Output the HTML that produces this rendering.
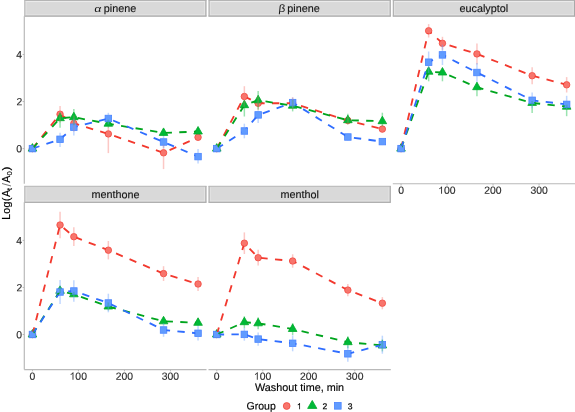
<!DOCTYPE html><html><head><meta charset="utf-8"><style>html,body{margin:0;padding:0;background:#fff;width:575px;height:412px;overflow:hidden}svg{display:block;will-change:transform}text{font-family:"Liberation Sans", sans-serif}</style></head><body>
<svg width="575" height="412" viewBox="0 0 575 412">
<rect width="575" height="412" fill="#fff"/>
<rect x="24.75" y="0.2" width="181.2" height="16" fill="#d9d9d9"/>
<line x1="25.2" y1="1.6" x2="205.5" y2="1.6" stroke="#efefef" stroke-width="0.9"/>
<line x1="25.2" y1="14.7" x2="205.5" y2="14.7" stroke="#e3e3e3" stroke-width="0.8"/>
<line x1="26.05" y1="1.2" x2="26.05" y2="15.2" stroke="#e5e5e5" stroke-width="0.8"/>
<line x1="204.65" y1="1.2" x2="204.65" y2="15.2" stroke="#e7e7e7" stroke-width="0.8"/>
<line x1="24.15" y1="0.2" x2="206.55" y2="0.2" stroke="#a7a7a7" stroke-width="1.2"/>
<line x1="24.15" y1="16.2" x2="206.55" y2="16.2" stroke="#a9a9a9" stroke-width="1.3"/>
<line x1="24.75" y1="0.2" x2="24.75" y2="16.2" stroke="#bdbdbd" stroke-width="1.2"/>
<line x1="205.95" y1="0.2" x2="205.95" y2="16.2" stroke="#a9a9a9" stroke-width="1.2"/>
<text transform="translate(94.092,11.950) rotate(0.05) skewX(-8) scale(1.12,0.88)" font-size="10.8" fill="#141414">α</text>
<g transform="translate(103.804,11.950) rotate(0.05)"><text x="0" y="0" font-size="10.8" fill="#141414" stroke="#141414" stroke-width="0.14">pinene</text></g>
<rect x="209.05" y="0.2" width="181.2" height="16" fill="#d9d9d9"/>
<line x1="209.5" y1="1.6" x2="389.8" y2="1.6" stroke="#efefef" stroke-width="0.9"/>
<line x1="209.5" y1="14.7" x2="389.8" y2="14.7" stroke="#e3e3e3" stroke-width="0.8"/>
<line x1="210.35" y1="1.2" x2="210.35" y2="15.2" stroke="#e5e5e5" stroke-width="0.8"/>
<line x1="388.95" y1="1.2" x2="388.95" y2="15.2" stroke="#e7e7e7" stroke-width="0.8"/>
<line x1="208.45" y1="0.2" x2="390.85" y2="0.2" stroke="#a7a7a7" stroke-width="1.2"/>
<line x1="208.45" y1="16.2" x2="390.85" y2="16.2" stroke="#a9a9a9" stroke-width="1.3"/>
<line x1="209.05" y1="0.2" x2="209.05" y2="16.2" stroke="#b0b0b0" stroke-width="1.2"/>
<line x1="390.25" y1="0.2" x2="390.25" y2="16.2" stroke="#a9a9a9" stroke-width="1.2"/>
<text transform="translate(278.291,11.950) rotate(0.05) skewX(-6) scale(1.08,1.0)" font-size="10.8" fill="#141414">β</text>
<g transform="translate(287.304,11.950) rotate(0.05)"><text x="0" y="0" font-size="10.8" fill="#141414" stroke="#141414" stroke-width="0.14">pinene</text></g>
<rect x="393.35" y="0.2" width="181.2" height="16" fill="#d9d9d9"/>
<line x1="393.8" y1="1.6" x2="574.1" y2="1.6" stroke="#efefef" stroke-width="0.9"/>
<line x1="393.8" y1="14.7" x2="574.1" y2="14.7" stroke="#e3e3e3" stroke-width="0.8"/>
<line x1="394.65" y1="1.2" x2="394.65" y2="15.2" stroke="#e5e5e5" stroke-width="0.8"/>
<line x1="573.25" y1="1.2" x2="573.25" y2="15.2" stroke="#e7e7e7" stroke-width="0.8"/>
<line x1="392.75" y1="0.2" x2="575.15" y2="0.2" stroke="#a7a7a7" stroke-width="1.2"/>
<line x1="392.75" y1="16.2" x2="575.15" y2="16.2" stroke="#a9a9a9" stroke-width="1.3"/>
<line x1="393.35" y1="0.2" x2="393.35" y2="16.2" stroke="#b0b0b0" stroke-width="1.2"/>
<line x1="574.55" y1="0.2" x2="574.55" y2="16.2" stroke="#a9a9a9" stroke-width="1.2"/>
<g transform="translate(459.541,11.950) rotate(0.05)"><text x="0" y="0" font-size="10.8" fill="#141414" stroke="#141414" stroke-width="0.14">eucalyptol</text></g>
<rect x="24.75" y="186.35" width="181.2" height="16" fill="#d9d9d9"/>
<line x1="25.2" y1="200.85" x2="205.5" y2="200.85" stroke="#e3e3e3" stroke-width="0.8"/>
<line x1="26.05" y1="187.35" x2="26.05" y2="201.35" stroke="#e5e5e5" stroke-width="0.8"/>
<line x1="204.65" y1="187.35" x2="204.65" y2="201.35" stroke="#e7e7e7" stroke-width="0.8"/>
<line x1="24.15" y1="186.35" x2="206.55" y2="186.35" stroke="#bfbfbf" stroke-width="1.2"/>
<line x1="24.15" y1="202.35" x2="206.55" y2="202.35" stroke="#b0b0b0" stroke-width="1.3"/>
<line x1="24.75" y1="186.35" x2="24.75" y2="202.35" stroke="#bdbdbd" stroke-width="1.2"/>
<line x1="205.95" y1="186.35" x2="205.95" y2="202.35" stroke="#a9a9a9" stroke-width="1.2"/>
<g transform="translate(91.383,198.100) rotate(0.05)"><text x="0" y="0" font-size="10.8" fill="#141414" stroke="#141414" stroke-width="0.14">menthone</text></g>
<rect x="209.05" y="186.35" width="181.2" height="16" fill="#d9d9d9"/>
<line x1="209.5" y1="200.85" x2="389.8" y2="200.85" stroke="#e3e3e3" stroke-width="0.8"/>
<line x1="210.35" y1="187.35" x2="210.35" y2="201.35" stroke="#e5e5e5" stroke-width="0.8"/>
<line x1="388.95" y1="187.35" x2="388.95" y2="201.35" stroke="#e7e7e7" stroke-width="0.8"/>
<line x1="208.45" y1="186.35" x2="390.85" y2="186.35" stroke="#bfbfbf" stroke-width="1.2"/>
<line x1="208.45" y1="202.35" x2="390.85" y2="202.35" stroke="#b0b0b0" stroke-width="1.3"/>
<line x1="209.05" y1="186.35" x2="209.05" y2="202.35" stroke="#b0b0b0" stroke-width="1.2"/>
<line x1="390.25" y1="186.35" x2="390.25" y2="202.35" stroke="#a9a9a9" stroke-width="1.2"/>
<g transform="translate(280.583,198.100) rotate(0.05)"><text x="0" y="0" font-size="10.8" fill="#141414" stroke="#141414" stroke-width="0.14">menthol</text></g>
<line x1="24.3" y1="16.2" x2="24.3" y2="183.75" stroke="#b9b9b9" stroke-width="1.2"/>
<line x1="22.6" y1="148.6" x2="24.3" y2="148.6" stroke="#b9b9b9" stroke-width="1"/>
<g transform="translate(16.372,152.350) rotate(0.05)"><text x="0" y="0" font-size="10.4" fill="#2b2b2b" stroke="#2b2b2b" stroke-width="0.15">0</text></g>
<line x1="22.6" y1="101.55" x2="24.3" y2="101.55" stroke="#b9b9b9" stroke-width="1"/>
<g transform="translate(16.489,105.300) rotate(0.05)"><text x="0" y="0" font-size="10.4" fill="#2b2b2b" stroke="#2b2b2b" stroke-width="0.15">2</text></g>
<line x1="22.6" y1="54.5" x2="24.3" y2="54.5" stroke="#b9b9b9" stroke-width="1"/>
<g transform="translate(16.271,58.250) rotate(0.05)"><text x="0" y="0" font-size="10.4" fill="#2b2b2b" stroke="#2b2b2b" stroke-width="0.15">4</text></g>
<line x1="24.3" y1="202.35" x2="24.3" y2="369.55" stroke="#b9b9b9" stroke-width="1.2"/>
<line x1="22.6" y1="334.5" x2="24.3" y2="334.5" stroke="#b9b9b9" stroke-width="1"/>
<g transform="translate(16.372,338.250) rotate(0.05)"><text x="0" y="0" font-size="10.4" fill="#2b2b2b" stroke="#2b2b2b" stroke-width="0.15">0</text></g>
<line x1="22.6" y1="287.45" x2="24.3" y2="287.45" stroke="#b9b9b9" stroke-width="1"/>
<g transform="translate(16.489,291.200) rotate(0.05)"><text x="0" y="0" font-size="10.4" fill="#2b2b2b" stroke="#2b2b2b" stroke-width="0.15">2</text></g>
<line x1="22.6" y1="240.4" x2="24.3" y2="240.4" stroke="#b9b9b9" stroke-width="1"/>
<g transform="translate(16.271,244.150) rotate(0.05)"><text x="0" y="0" font-size="10.4" fill="#2b2b2b" stroke="#2b2b2b" stroke-width="0.15">4</text></g>
<line x1="392.8" y1="183.75" x2="575.1" y2="183.75" stroke="#b9b9b9" stroke-width="1.2"/>
<line x1="401.05" y1="183.75" x2="401.05" y2="185.55" stroke="#b9b9b9" stroke-width="1"/>
<g transform="translate(398.158,193.850) rotate(0.05)"><text x="0" y="0" font-size="10.4" fill="#2b2b2b" stroke="#2b2b2b" stroke-width="0.15">0</text></g>
<line x1="447.05" y1="183.75" x2="447.05" y2="185.55" stroke="#b9b9b9" stroke-width="1"/>
<path transform="translate(438.18,193.85) scale(0.01040,-0.01040)" d="M372,0 L284,0 L284,560 C263,540 235,519 200,499 C165,478 134,463 106,452 L106,537 C155,560 198,588 235,621 C272,654 298,686 313,716 L372,716 Z" fill="#2b2b2b"/><g transform="translate(443.965,193.850) rotate(0.05)"><text x="0" y="0" font-size="10.4" fill="#2b2b2b" stroke="#2b2b2b" stroke-width="0.15">00</text></g>
<line x1="493.05" y1="183.75" x2="493.05" y2="185.55" stroke="#b9b9b9" stroke-width="1"/>
<g transform="translate(484.316,193.850) rotate(0.05)"><text x="0" y="0" font-size="10.4" fill="#2b2b2b" stroke="#2b2b2b" stroke-width="0.15">200</text></g>
<line x1="539.05" y1="183.75" x2="539.05" y2="185.55" stroke="#b9b9b9" stroke-width="1"/>
<g transform="translate(530.379,193.850) rotate(0.05)"><text x="0" y="0" font-size="10.4" fill="#2b2b2b" stroke="#2b2b2b" stroke-width="0.15">300</text></g>
<line x1="24.2" y1="369.55" x2="206.5" y2="369.55" stroke="#b9b9b9" stroke-width="1.2"/>
<line x1="32.45" y1="369.55" x2="32.45" y2="371.35" stroke="#b9b9b9" stroke-width="1"/>
<g transform="translate(29.558,379.650) rotate(0.05)"><text x="0" y="0" font-size="10.4" fill="#2b2b2b" stroke="#2b2b2b" stroke-width="0.15">0</text></g>
<line x1="78.45" y1="369.55" x2="78.45" y2="371.35" stroke="#b9b9b9" stroke-width="1"/>
<path transform="translate(69.58,379.65) scale(0.01040,-0.01040)" d="M372,0 L284,0 L284,560 C263,540 235,519 200,499 C165,478 134,463 106,452 L106,537 C155,560 198,588 235,621 C272,654 298,686 313,716 L372,716 Z" fill="#2b2b2b"/><g transform="translate(75.365,379.650) rotate(0.05)"><text x="0" y="0" font-size="10.4" fill="#2b2b2b" stroke="#2b2b2b" stroke-width="0.15">00</text></g>
<line x1="124.45" y1="369.55" x2="124.45" y2="371.35" stroke="#b9b9b9" stroke-width="1"/>
<g transform="translate(115.716,379.650) rotate(0.05)"><text x="0" y="0" font-size="10.4" fill="#2b2b2b" stroke="#2b2b2b" stroke-width="0.15">200</text></g>
<line x1="170.45" y1="369.55" x2="170.45" y2="371.35" stroke="#b9b9b9" stroke-width="1"/>
<g transform="translate(161.779,379.650) rotate(0.05)"><text x="0" y="0" font-size="10.4" fill="#2b2b2b" stroke="#2b2b2b" stroke-width="0.15">300</text></g>
<line x1="208.5" y1="369.55" x2="390.8" y2="369.55" stroke="#b9b9b9" stroke-width="1.2"/>
<line x1="216.75" y1="369.55" x2="216.75" y2="371.35" stroke="#b9b9b9" stroke-width="1"/>
<g transform="translate(213.858,379.650) rotate(0.05)"><text x="0" y="0" font-size="10.4" fill="#2b2b2b" stroke="#2b2b2b" stroke-width="0.15">0</text></g>
<line x1="262.75" y1="369.55" x2="262.75" y2="371.35" stroke="#b9b9b9" stroke-width="1"/>
<path transform="translate(253.88,379.65) scale(0.01040,-0.01040)" d="M372,0 L284,0 L284,560 C263,540 235,519 200,499 C165,478 134,463 106,452 L106,537 C155,560 198,588 235,621 C272,654 298,686 313,716 L372,716 Z" fill="#2b2b2b"/><g transform="translate(259.665,379.650) rotate(0.05)"><text x="0" y="0" font-size="10.4" fill="#2b2b2b" stroke="#2b2b2b" stroke-width="0.15">00</text></g>
<line x1="308.75" y1="369.55" x2="308.75" y2="371.35" stroke="#b9b9b9" stroke-width="1"/>
<g transform="translate(300.016,379.650) rotate(0.05)"><text x="0" y="0" font-size="10.4" fill="#2b2b2b" stroke="#2b2b2b" stroke-width="0.15">200</text></g>
<line x1="354.75" y1="369.55" x2="354.75" y2="371.35" stroke="#b9b9b9" stroke-width="1"/>
<g transform="translate(346.079,379.650) rotate(0.05)"><text x="0" y="0" font-size="10.4" fill="#2b2b2b" stroke="#2b2b2b" stroke-width="0.15">300</text></g>
<defs><mask id="m0r" maskUnits="userSpaceOnUse" x="0" y="0" width="575" height="412"><rect width="575" height="412" fill="#fff"/><circle cx="32.45" cy="148.6" r="2.75" fill="#000"/><circle cx="60.05" cy="114.2" r="2.75" fill="#000"/><circle cx="73.85" cy="123.4" r="2.75" fill="#000"/><circle cx="108.35" cy="133.9" r="2.75" fill="#000"/><circle cx="163.55" cy="152.8" r="2.75" fill="#000"/><circle cx="198.05" cy="137.3" r="2.75" fill="#000"/></mask><mask id="m0g" maskUnits="userSpaceOnUse" x="0" y="0" width="575" height="412"><rect width="575" height="412" fill="#fff"/><polygon points="32.45,144.95 35.61,150.43 29.29,150.43" fill="#000"/><polygon points="60.05,114.55 63.21,120.03 56.89,120.03" fill="#000"/><polygon points="73.85,113.55 77.01,119.03 70.69,119.03" fill="#000"/><polygon points="108.35,120.05 111.51,125.53 105.19,125.53" fill="#000"/><polygon points="163.55,129.25 166.71,134.73 160.39,134.73" fill="#000"/><polygon points="198.05,127.85 201.21,133.33 194.89,133.33" fill="#000"/></mask><mask id="m0b" maskUnits="userSpaceOnUse" x="0" y="0" width="575" height="412"><rect width="575" height="412" fill="#fff"/><rect x="29.7" y="145.85" width="5.5" height="5.5" fill="#000"/><rect x="57.3" y="136.55" width="5.5" height="5.5" fill="#000"/><rect x="71.1" y="124.45" width="5.5" height="5.5" fill="#000"/><rect x="105.6" y="115.75" width="5.5" height="5.5" fill="#000"/><rect x="160.8" y="139.25" width="5.5" height="5.5" fill="#000"/><rect x="195.3" y="153.85" width="5.5" height="5.5" fill="#000"/></mask><mask id="m1r" maskUnits="userSpaceOnUse" x="0" y="0" width="575" height="412"><rect width="575" height="412" fill="#fff"/><circle cx="216.75" cy="148.6" r="2.75" fill="#000"/><circle cx="244.35" cy="96.5" r="2.75" fill="#000"/><circle cx="258.15" cy="103.3" r="2.75" fill="#000"/><circle cx="292.65" cy="103.2" r="2.75" fill="#000"/><circle cx="347.85" cy="120.5" r="2.75" fill="#000"/><circle cx="382.35" cy="129.1" r="2.75" fill="#000"/></mask><mask id="m1g" maskUnits="userSpaceOnUse" x="0" y="0" width="575" height="412"><rect width="575" height="412" fill="#fff"/><polygon points="216.75,144.95 219.91,150.43 213.59,150.43" fill="#000"/><polygon points="244.35,101.55 247.51,107.03 241.19,107.03" fill="#000"/><polygon points="258.15,96.65 261.31,102.13 254.99,102.13" fill="#000"/><polygon points="292.65,102.05 295.81,107.53 289.49,107.53" fill="#000"/><polygon points="347.85,116.55 351.01,122.03 344.69,122.03" fill="#000"/><polygon points="382.35,117.55 385.51,123.03 379.19,123.03" fill="#000"/></mask><mask id="m1b" maskUnits="userSpaceOnUse" x="0" y="0" width="575" height="412"><rect width="575" height="412" fill="#fff"/><rect x="214" y="145.85" width="5.5" height="5.5" fill="#000"/><rect x="241.6" y="128.25" width="5.5" height="5.5" fill="#000"/><rect x="255.4" y="112.15" width="5.5" height="5.5" fill="#000"/><rect x="289.9" y="99.85" width="5.5" height="5.5" fill="#000"/><rect x="345.1" y="134.25" width="5.5" height="5.5" fill="#000"/><rect x="379.6" y="138.85" width="5.5" height="5.5" fill="#000"/></mask><mask id="m2r" maskUnits="userSpaceOnUse" x="0" y="0" width="575" height="412"><rect width="575" height="412" fill="#fff"/><circle cx="401.05" cy="148.6" r="2.75" fill="#000"/><circle cx="428.65" cy="30.8" r="2.75" fill="#000"/><circle cx="442.45" cy="43.3" r="2.75" fill="#000"/><circle cx="476.95" cy="53.9" r="2.75" fill="#000"/><circle cx="532.15" cy="75.7" r="2.75" fill="#000"/><circle cx="566.65" cy="84.8" r="2.75" fill="#000"/></mask><mask id="m2g" maskUnits="userSpaceOnUse" x="0" y="0" width="575" height="412"><rect width="575" height="412" fill="#fff"/><polygon points="401.05,144.95 404.21,150.43 397.89,150.43" fill="#000"/><polygon points="428.65,68.05 431.81,73.53 425.49,73.53" fill="#000"/><polygon points="442.45,68.85 445.61,74.33 439.29,74.33" fill="#000"/><polygon points="476.95,83.55 480.11,89.03 473.79,89.03" fill="#000"/><polygon points="532.15,99.25 535.31,104.73 528.99,104.73" fill="#000"/><polygon points="566.65,103.05 569.81,108.53 563.49,108.53" fill="#000"/></mask><mask id="m2b" maskUnits="userSpaceOnUse" x="0" y="0" width="575" height="412"><rect width="575" height="412" fill="#fff"/><rect x="398.3" y="145.85" width="5.5" height="5.5" fill="#000"/><rect x="425.9" y="59.45" width="5.5" height="5.5" fill="#000"/><rect x="439.7" y="52.15" width="5.5" height="5.5" fill="#000"/><rect x="474.2" y="69.75" width="5.5" height="5.5" fill="#000"/><rect x="529.4" y="97.55" width="5.5" height="5.5" fill="#000"/><rect x="563.9" y="101.65" width="5.5" height="5.5" fill="#000"/></mask><mask id="m3r" maskUnits="userSpaceOnUse" x="0" y="0" width="575" height="412"><rect width="575" height="412" fill="#fff"/><circle cx="32.45" cy="334.5" r="2.75" fill="#000"/><circle cx="60.05" cy="225" r="2.75" fill="#000"/><circle cx="73.85" cy="236.7" r="2.75" fill="#000"/><circle cx="108.35" cy="250.2" r="2.75" fill="#000"/><circle cx="163.55" cy="273.6" r="2.75" fill="#000"/><circle cx="198.05" cy="284" r="2.75" fill="#000"/></mask><mask id="m3g" maskUnits="userSpaceOnUse" x="0" y="0" width="575" height="412"><rect width="575" height="412" fill="#fff"/><polygon points="32.45,330.85 35.61,336.33 29.29,336.33" fill="#000"/><polygon points="60.05,287.15 63.21,292.63 56.89,292.63" fill="#000"/><polygon points="73.85,290.65 77.01,296.13 70.69,296.13" fill="#000"/><polygon points="108.35,302.85 111.51,308.33 105.19,308.33" fill="#000"/><polygon points="163.55,317.65 166.71,323.13 160.39,323.13" fill="#000"/><polygon points="198.05,319.15 201.21,324.63 194.89,324.63" fill="#000"/></mask><mask id="m3b" maskUnits="userSpaceOnUse" x="0" y="0" width="575" height="412"><rect width="575" height="412" fill="#fff"/><rect x="29.7" y="331.75" width="5.5" height="5.5" fill="#000"/><rect x="57.3" y="289.25" width="5.5" height="5.5" fill="#000"/><rect x="71.1" y="288.25" width="5.5" height="5.5" fill="#000"/><rect x="105.6" y="300.25" width="5.5" height="5.5" fill="#000"/><rect x="160.8" y="327.25" width="5.5" height="5.5" fill="#000"/><rect x="195.3" y="330.55" width="5.5" height="5.5" fill="#000"/></mask><mask id="m4r" maskUnits="userSpaceOnUse" x="0" y="0" width="575" height="412"><rect width="575" height="412" fill="#fff"/><circle cx="216.75" cy="334.5" r="2.75" fill="#000"/><circle cx="244.35" cy="243.2" r="2.75" fill="#000"/><circle cx="258.15" cy="257.7" r="2.75" fill="#000"/><circle cx="292.65" cy="261" r="2.75" fill="#000"/><circle cx="347.85" cy="290.1" r="2.75" fill="#000"/><circle cx="382.35" cy="303.2" r="2.75" fill="#000"/></mask><mask id="m4g" maskUnits="userSpaceOnUse" x="0" y="0" width="575" height="412"><rect width="575" height="412" fill="#fff"/><polygon points="216.75,330.85 219.91,336.33 213.59,336.33" fill="#000"/><polygon points="244.35,318.55 247.51,324.03 241.19,324.03" fill="#000"/><polygon points="258.15,319.65 261.31,325.13 254.99,325.13" fill="#000"/><polygon points="292.65,325.35 295.81,330.83 289.49,330.83" fill="#000"/><polygon points="347.85,338.55 351.01,344.03 344.69,344.03" fill="#000"/><polygon points="382.35,341.75 385.51,347.23 379.19,347.23" fill="#000"/></mask><mask id="m4b" maskUnits="userSpaceOnUse" x="0" y="0" width="575" height="412"><rect width="575" height="412" fill="#fff"/><rect x="214" y="331.75" width="5.5" height="5.5" fill="#000"/><rect x="241.6" y="331.65" width="5.5" height="5.5" fill="#000"/><rect x="255.4" y="336.35" width="5.5" height="5.5" fill="#000"/><rect x="289.9" y="340.55" width="5.5" height="5.5" fill="#000"/><rect x="345.1" y="351.05" width="5.5" height="5.5" fill="#000"/><rect x="379.6" y="341.95" width="5.5" height="5.5" fill="#000"/></mask></defs>
<circle cx="32.45" cy="148.6" r="3.25" fill="#F8766D" stroke="#F1463D" stroke-width="0.8"/>
<circle cx="60.05" cy="114.2" r="3.25" fill="#F8766D" stroke="#F1463D" stroke-width="0.8"/>
<circle cx="73.85" cy="123.4" r="3.25" fill="#F8766D" stroke="#F1463D" stroke-width="0.8"/>
<circle cx="108.35" cy="133.9" r="3.25" fill="#F8766D" stroke="#F1463D" stroke-width="0.8"/>
<circle cx="163.55" cy="152.8" r="3.25" fill="#F8766D" stroke="#F1463D" stroke-width="0.8"/>
<circle cx="198.05" cy="137.3" r="3.25" fill="#F8766D" stroke="#F1463D" stroke-width="0.8"/>
<polygon points="32.45,143.61 36.77,151.1 28.13,151.1" fill="#00BA38" stroke="#00A82A" stroke-width="0.8"/>
<polygon points="60.05,113.21 64.37,120.7 55.73,120.7" fill="#00BA38" stroke="#00A82A" stroke-width="0.8"/>
<polygon points="73.85,112.21 78.17,119.7 69.53,119.7" fill="#00BA38" stroke="#00A82A" stroke-width="0.8"/>
<polygon points="108.35,118.71 112.67,126.2 104.03,126.2" fill="#00BA38" stroke="#00A82A" stroke-width="0.8"/>
<polygon points="163.55,127.91 167.87,135.4 159.23,135.4" fill="#00BA38" stroke="#00A82A" stroke-width="0.8"/>
<polygon points="198.05,126.51 202.37,134 193.73,134" fill="#00BA38" stroke="#00A82A" stroke-width="0.8"/>
<rect x="29.2" y="145.35" width="6.5" height="6.5" fill="#619CFF" stroke="#4A84FF" stroke-width="0.8"/>
<rect x="56.8" y="136.05" width="6.5" height="6.5" fill="#619CFF" stroke="#4A84FF" stroke-width="0.8"/>
<rect x="70.6" y="123.95" width="6.5" height="6.5" fill="#619CFF" stroke="#4A84FF" stroke-width="0.8"/>
<rect x="105.1" y="115.25" width="6.5" height="6.5" fill="#619CFF" stroke="#4A84FF" stroke-width="0.8"/>
<rect x="160.3" y="138.75" width="6.5" height="6.5" fill="#619CFF" stroke="#4A84FF" stroke-width="0.8"/>
<rect x="194.8" y="153.35" width="6.5" height="6.5" fill="#619CFF" stroke="#4A84FF" stroke-width="0.8"/>
<line x1="60.05" y1="105.9" x2="60.05" y2="122.5" stroke="#F8766D" stroke-opacity="0.4" stroke-width="1.5"/>
<line x1="73.85" y1="115.4" x2="73.85" y2="131.4" stroke="#F8766D" stroke-opacity="0.4" stroke-width="1.5"/>
<line x1="108.35" y1="127.4" x2="108.35" y2="153.1" stroke="#F8766D" stroke-opacity="0.4" stroke-width="1.5"/>
<line x1="163.55" y1="144.8" x2="163.55" y2="169.1" stroke="#F8766D" stroke-opacity="0.4" stroke-width="1.5"/>
<line x1="198.05" y1="134.3" x2="198.05" y2="140.3" stroke="#F8766D" stroke-opacity="0.4" stroke-width="1.5"/>
<line x1="60.05" y1="112.2" x2="60.05" y2="127.7" stroke="#00BA38" stroke-opacity="0.4" stroke-width="1.5"/>
<line x1="73.85" y1="109.1" x2="73.85" y2="125.3" stroke="#00BA38" stroke-opacity="0.4" stroke-width="1.5"/>
<line x1="108.35" y1="119.7" x2="108.35" y2="127.7" stroke="#00BA38" stroke-opacity="0.4" stroke-width="1.5"/>
<line x1="163.55" y1="129.9" x2="163.55" y2="135.9" stroke="#00BA38" stroke-opacity="0.4" stroke-width="1.5"/>
<line x1="198.05" y1="128.5" x2="198.05" y2="134.5" stroke="#00BA38" stroke-opacity="0.4" stroke-width="1.5"/>
<line x1="60.05" y1="132.7" x2="60.05" y2="147.1" stroke="#619CFF" stroke-opacity="0.4" stroke-width="1.5"/>
<line x1="73.85" y1="118.8" x2="73.85" y2="135.6" stroke="#619CFF" stroke-opacity="0.4" stroke-width="1.5"/>
<line x1="108.35" y1="112.8" x2="108.35" y2="124.2" stroke="#619CFF" stroke-opacity="0.4" stroke-width="1.5"/>
<line x1="163.55" y1="136" x2="163.55" y2="148" stroke="#619CFF" stroke-opacity="0.4" stroke-width="1.5"/>
<line x1="198.05" y1="149.1" x2="198.05" y2="163.6" stroke="#619CFF" stroke-opacity="0.4" stroke-width="1.5"/>
<polyline points="32.45,148.6 60.05,114.2 73.85,123.4 108.35,133.9 163.55,152.8 198.05,137.3" fill="none" stroke="#F2392E" stroke-width="1.83" stroke-dasharray="7.35 7.35" mask="url(#m0r)"/>
<polyline points="32.45,148.6 60.05,118.2 73.85,117.2 108.35,123.7 163.55,132.9 198.05,131.5" fill="none" stroke="#00A51E" stroke-width="1.83" stroke-dasharray="7.35 7.35" mask="url(#m0g)"/>
<polyline points="32.45,148.6 60.05,139.3 73.85,127.2 108.35,118.5 163.55,142 198.05,156.6" fill="none" stroke="#2F6DFF" stroke-width="1.83" stroke-dasharray="7.35 7.35" mask="url(#m0b)"/>
<circle cx="216.75" cy="148.6" r="3.25" fill="#F8766D" stroke="#F1463D" stroke-width="0.8"/>
<circle cx="244.35" cy="96.5" r="3.25" fill="#F8766D" stroke="#F1463D" stroke-width="0.8"/>
<circle cx="258.15" cy="103.3" r="3.25" fill="#F8766D" stroke="#F1463D" stroke-width="0.8"/>
<circle cx="292.65" cy="103.2" r="3.25" fill="#F8766D" stroke="#F1463D" stroke-width="0.8"/>
<circle cx="347.85" cy="120.5" r="3.25" fill="#F8766D" stroke="#F1463D" stroke-width="0.8"/>
<circle cx="382.35" cy="129.1" r="3.25" fill="#F8766D" stroke="#F1463D" stroke-width="0.8"/>
<polygon points="216.75,143.61 221.07,151.1 212.43,151.1" fill="#00BA38" stroke="#00A82A" stroke-width="0.8"/>
<polygon points="244.35,100.21 248.67,107.7 240.03,107.7" fill="#00BA38" stroke="#00A82A" stroke-width="0.8"/>
<polygon points="258.15,95.31 262.47,102.8 253.83,102.8" fill="#00BA38" stroke="#00A82A" stroke-width="0.8"/>
<polygon points="292.65,100.71 296.97,108.2 288.33,108.2" fill="#00BA38" stroke="#00A82A" stroke-width="0.8"/>
<polygon points="347.85,115.21 352.17,122.7 343.53,122.7" fill="#00BA38" stroke="#00A82A" stroke-width="0.8"/>
<polygon points="382.35,116.21 386.67,123.7 378.03,123.7" fill="#00BA38" stroke="#00A82A" stroke-width="0.8"/>
<rect x="213.5" y="145.35" width="6.5" height="6.5" fill="#619CFF" stroke="#4A84FF" stroke-width="0.8"/>
<rect x="241.1" y="127.75" width="6.5" height="6.5" fill="#619CFF" stroke="#4A84FF" stroke-width="0.8"/>
<rect x="254.9" y="111.65" width="6.5" height="6.5" fill="#619CFF" stroke="#4A84FF" stroke-width="0.8"/>
<rect x="289.4" y="99.35" width="6.5" height="6.5" fill="#619CFF" stroke="#4A84FF" stroke-width="0.8"/>
<rect x="344.6" y="133.75" width="6.5" height="6.5" fill="#619CFF" stroke="#4A84FF" stroke-width="0.8"/>
<rect x="379.1" y="138.35" width="6.5" height="6.5" fill="#619CFF" stroke="#4A84FF" stroke-width="0.8"/>
<line x1="244.35" y1="86.2" x2="244.35" y2="106.8" stroke="#F8766D" stroke-opacity="0.4" stroke-width="1.5"/>
<line x1="258.15" y1="96.3" x2="258.15" y2="110.3" stroke="#F8766D" stroke-opacity="0.4" stroke-width="1.5"/>
<line x1="292.65" y1="97.2" x2="292.65" y2="109.2" stroke="#F8766D" stroke-opacity="0.4" stroke-width="1.5"/>
<line x1="347.85" y1="116.5" x2="347.85" y2="124.5" stroke="#F8766D" stroke-opacity="0.4" stroke-width="1.5"/>
<line x1="382.35" y1="125.6" x2="382.35" y2="132.6" stroke="#F8766D" stroke-opacity="0.4" stroke-width="1.5"/>
<line x1="244.35" y1="100.2" x2="244.35" y2="116.5" stroke="#00BA38" stroke-opacity="0.4" stroke-width="1.5"/>
<line x1="258.15" y1="91" x2="258.15" y2="109.6" stroke="#00BA38" stroke-opacity="0.4" stroke-width="1.5"/>
<line x1="292.65" y1="100" x2="292.65" y2="111.4" stroke="#00BA38" stroke-opacity="0.4" stroke-width="1.5"/>
<line x1="347.85" y1="113.7" x2="347.85" y2="124.2" stroke="#00BA38" stroke-opacity="0.4" stroke-width="1.5"/>
<line x1="382.35" y1="112.7" x2="382.35" y2="126.2" stroke="#00BA38" stroke-opacity="0.4" stroke-width="1.5"/>
<line x1="244.35" y1="123.7" x2="244.35" y2="138.3" stroke="#619CFF" stroke-opacity="0.4" stroke-width="1.5"/>
<line x1="258.15" y1="110.4" x2="258.15" y2="122.9" stroke="#619CFF" stroke-opacity="0.4" stroke-width="1.5"/>
<line x1="292.65" y1="97.6" x2="292.65" y2="107.6" stroke="#619CFF" stroke-opacity="0.4" stroke-width="1.5"/>
<line x1="347.85" y1="133.5" x2="347.85" y2="140.5" stroke="#619CFF" stroke-opacity="0.4" stroke-width="1.5"/>
<line x1="382.35" y1="138.1" x2="382.35" y2="145.1" stroke="#619CFF" stroke-opacity="0.4" stroke-width="1.5"/>
<polyline points="216.75,148.6 244.35,96.5 258.15,103.3 292.65,103.2 347.85,120.5 382.35,129.1" fill="none" stroke="#F2392E" stroke-width="1.83" stroke-dasharray="7.35 7.35" mask="url(#m1r)"/>
<polyline points="216.75,148.6 244.35,105.2 258.15,100.3 292.65,105.7 347.85,120.2 382.35,121.2" fill="none" stroke="#00A51E" stroke-width="1.83" stroke-dasharray="7.35 7.35" mask="url(#m1g)"/>
<polyline points="216.75,148.6 244.35,131 258.15,114.9 292.65,102.6 347.85,137 382.35,141.6" fill="none" stroke="#2F6DFF" stroke-width="1.83" stroke-dasharray="7.35 7.35" mask="url(#m1b)"/>
<circle cx="401.05" cy="148.6" r="3.25" fill="#F8766D" stroke="#F1463D" stroke-width="0.8"/>
<circle cx="428.65" cy="30.8" r="3.25" fill="#F8766D" stroke="#F1463D" stroke-width="0.8"/>
<circle cx="442.45" cy="43.3" r="3.25" fill="#F8766D" stroke="#F1463D" stroke-width="0.8"/>
<circle cx="476.95" cy="53.9" r="3.25" fill="#F8766D" stroke="#F1463D" stroke-width="0.8"/>
<circle cx="532.15" cy="75.7" r="3.25" fill="#F8766D" stroke="#F1463D" stroke-width="0.8"/>
<circle cx="566.65" cy="84.8" r="3.25" fill="#F8766D" stroke="#F1463D" stroke-width="0.8"/>
<polygon points="401.05,143.61 405.37,151.1 396.73,151.1" fill="#00BA38" stroke="#00A82A" stroke-width="0.8"/>
<polygon points="428.65,66.71 432.97,74.2 424.33,74.2" fill="#00BA38" stroke="#00A82A" stroke-width="0.8"/>
<polygon points="442.45,67.51 446.77,75 438.13,75" fill="#00BA38" stroke="#00A82A" stroke-width="0.8"/>
<polygon points="476.95,82.21 481.27,89.7 472.63,89.7" fill="#00BA38" stroke="#00A82A" stroke-width="0.8"/>
<polygon points="532.15,97.91 536.47,105.4 527.83,105.4" fill="#00BA38" stroke="#00A82A" stroke-width="0.8"/>
<polygon points="566.65,101.71 570.97,109.2 562.33,109.2" fill="#00BA38" stroke="#00A82A" stroke-width="0.8"/>
<rect x="397.8" y="145.35" width="6.5" height="6.5" fill="#619CFF" stroke="#4A84FF" stroke-width="0.8"/>
<rect x="425.4" y="58.95" width="6.5" height="6.5" fill="#619CFF" stroke="#4A84FF" stroke-width="0.8"/>
<rect x="439.2" y="51.65" width="6.5" height="6.5" fill="#619CFF" stroke="#4A84FF" stroke-width="0.8"/>
<rect x="473.7" y="69.25" width="6.5" height="6.5" fill="#619CFF" stroke="#4A84FF" stroke-width="0.8"/>
<rect x="528.9" y="97.05" width="6.5" height="6.5" fill="#619CFF" stroke="#4A84FF" stroke-width="0.8"/>
<rect x="563.4" y="101.15" width="6.5" height="6.5" fill="#619CFF" stroke="#4A84FF" stroke-width="0.8"/>
<line x1="428.65" y1="24.1" x2="428.65" y2="37.5" stroke="#F8766D" stroke-opacity="0.4" stroke-width="1.5"/>
<line x1="442.45" y1="36.8" x2="442.45" y2="49.8" stroke="#F8766D" stroke-opacity="0.4" stroke-width="1.5"/>
<line x1="476.95" y1="43.4" x2="476.95" y2="64.4" stroke="#F8766D" stroke-opacity="0.4" stroke-width="1.5"/>
<line x1="532.15" y1="67.2" x2="532.15" y2="84.2" stroke="#F8766D" stroke-opacity="0.4" stroke-width="1.5"/>
<line x1="566.65" y1="77.1" x2="566.65" y2="92.5" stroke="#F8766D" stroke-opacity="0.4" stroke-width="1.5"/>
<line x1="428.65" y1="68.7" x2="428.65" y2="81.3" stroke="#00BA38" stroke-opacity="0.4" stroke-width="1.5"/>
<line x1="442.45" y1="69.5" x2="442.45" y2="81.3" stroke="#00BA38" stroke-opacity="0.4" stroke-width="1.5"/>
<line x1="476.95" y1="82.2" x2="476.95" y2="96.2" stroke="#00BA38" stroke-opacity="0.4" stroke-width="1.5"/>
<line x1="532.15" y1="100.9" x2="532.15" y2="112.9" stroke="#00BA38" stroke-opacity="0.4" stroke-width="1.5"/>
<line x1="566.65" y1="104.7" x2="566.65" y2="116.2" stroke="#00BA38" stroke-opacity="0.4" stroke-width="1.5"/>
<line x1="428.65" y1="51.5" x2="428.65" y2="72.9" stroke="#619CFF" stroke-opacity="0.4" stroke-width="1.5"/>
<line x1="442.45" y1="44.8" x2="442.45" y2="65" stroke="#619CFF" stroke-opacity="0.4" stroke-width="1.5"/>
<line x1="476.95" y1="63" x2="476.95" y2="82" stroke="#619CFF" stroke-opacity="0.4" stroke-width="1.5"/>
<line x1="532.15" y1="92.4" x2="532.15" y2="108.2" stroke="#619CFF" stroke-opacity="0.4" stroke-width="1.5"/>
<line x1="566.65" y1="95.8" x2="566.65" y2="109.4" stroke="#619CFF" stroke-opacity="0.4" stroke-width="1.5"/>
<polyline points="401.05,148.6 428.65,30.8 442.45,43.3 476.95,53.9 532.15,75.7 566.65,84.8" fill="none" stroke="#F2392E" stroke-width="1.83" stroke-dasharray="7.35 7.35" mask="url(#m2r)"/>
<polyline points="401.05,148.6 428.65,71.7 442.45,72.5 476.95,87.2 532.15,102.9 566.65,106.7" fill="none" stroke="#00A51E" stroke-width="1.83" stroke-dasharray="7.35 7.35" mask="url(#m2g)"/>
<polyline points="401.05,148.6 428.65,62.2 442.45,54.9 476.95,72.5 532.15,100.3 566.65,104.4" fill="none" stroke="#2F6DFF" stroke-width="1.83" stroke-dasharray="7.35 7.35" mask="url(#m2b)"/>
<circle cx="32.45" cy="334.5" r="3.25" fill="#F8766D" stroke="#F1463D" stroke-width="0.8"/>
<circle cx="60.05" cy="225" r="3.25" fill="#F8766D" stroke="#F1463D" stroke-width="0.8"/>
<circle cx="73.85" cy="236.7" r="3.25" fill="#F8766D" stroke="#F1463D" stroke-width="0.8"/>
<circle cx="108.35" cy="250.2" r="3.25" fill="#F8766D" stroke="#F1463D" stroke-width="0.8"/>
<circle cx="163.55" cy="273.6" r="3.25" fill="#F8766D" stroke="#F1463D" stroke-width="0.8"/>
<circle cx="198.05" cy="284" r="3.25" fill="#F8766D" stroke="#F1463D" stroke-width="0.8"/>
<polygon points="32.45,329.51 36.77,337 28.13,337" fill="#00BA38" stroke="#00A82A" stroke-width="0.8"/>
<polygon points="60.05,285.81 64.37,293.3 55.73,293.3" fill="#00BA38" stroke="#00A82A" stroke-width="0.8"/>
<polygon points="73.85,289.31 78.17,296.8 69.53,296.8" fill="#00BA38" stroke="#00A82A" stroke-width="0.8"/>
<polygon points="108.35,301.51 112.67,309 104.03,309" fill="#00BA38" stroke="#00A82A" stroke-width="0.8"/>
<polygon points="163.55,316.31 167.87,323.8 159.23,323.8" fill="#00BA38" stroke="#00A82A" stroke-width="0.8"/>
<polygon points="198.05,317.81 202.37,325.3 193.73,325.3" fill="#00BA38" stroke="#00A82A" stroke-width="0.8"/>
<rect x="29.2" y="331.25" width="6.5" height="6.5" fill="#619CFF" stroke="#4A84FF" stroke-width="0.8"/>
<rect x="56.8" y="288.75" width="6.5" height="6.5" fill="#619CFF" stroke="#4A84FF" stroke-width="0.8"/>
<rect x="70.6" y="287.75" width="6.5" height="6.5" fill="#619CFF" stroke="#4A84FF" stroke-width="0.8"/>
<rect x="105.1" y="299.75" width="6.5" height="6.5" fill="#619CFF" stroke="#4A84FF" stroke-width="0.8"/>
<rect x="160.3" y="326.75" width="6.5" height="6.5" fill="#619CFF" stroke="#4A84FF" stroke-width="0.8"/>
<rect x="194.8" y="330.05" width="6.5" height="6.5" fill="#619CFF" stroke="#4A84FF" stroke-width="0.8"/>
<line x1="60.05" y1="211.7" x2="60.05" y2="238.3" stroke="#F8766D" stroke-opacity="0.4" stroke-width="1.5"/>
<line x1="73.85" y1="227.3" x2="73.85" y2="246.1" stroke="#F8766D" stroke-opacity="0.4" stroke-width="1.5"/>
<line x1="108.35" y1="241" x2="108.35" y2="259.4" stroke="#F8766D" stroke-opacity="0.4" stroke-width="1.5"/>
<line x1="163.55" y1="266.2" x2="163.55" y2="281" stroke="#F8766D" stroke-opacity="0.4" stroke-width="1.5"/>
<line x1="198.05" y1="277" x2="198.05" y2="291" stroke="#F8766D" stroke-opacity="0.4" stroke-width="1.5"/>
<line x1="60.05" y1="288.3" x2="60.05" y2="293.3" stroke="#00BA38" stroke-opacity="0.4" stroke-width="1.5"/>
<line x1="73.85" y1="291.8" x2="73.85" y2="296.8" stroke="#00BA38" stroke-opacity="0.4" stroke-width="1.5"/>
<line x1="108.35" y1="302.5" x2="108.35" y2="310.5" stroke="#00BA38" stroke-opacity="0.4" stroke-width="1.5"/>
<line x1="163.55" y1="318.3" x2="163.55" y2="324.3" stroke="#00BA38" stroke-opacity="0.4" stroke-width="1.5"/>
<line x1="198.05" y1="319.8" x2="198.05" y2="325.8" stroke="#00BA38" stroke-opacity="0.4" stroke-width="1.5"/>
<line x1="60.05" y1="280" x2="60.05" y2="304" stroke="#619CFF" stroke-opacity="0.4" stroke-width="1.5"/>
<line x1="73.85" y1="280.3" x2="73.85" y2="301.7" stroke="#619CFF" stroke-opacity="0.4" stroke-width="1.5"/>
<line x1="108.35" y1="293.7" x2="108.35" y2="312.3" stroke="#619CFF" stroke-opacity="0.4" stroke-width="1.5"/>
<line x1="163.55" y1="323.2" x2="163.55" y2="336.8" stroke="#619CFF" stroke-opacity="0.4" stroke-width="1.5"/>
<line x1="198.05" y1="326" x2="198.05" y2="340.6" stroke="#619CFF" stroke-opacity="0.4" stroke-width="1.5"/>
<polyline points="32.45,334.5 60.05,225 73.85,236.7 108.35,250.2 163.55,273.6 198.05,284" fill="none" stroke="#F2392E" stroke-width="1.83" stroke-dasharray="7.35 7.35" mask="url(#m3r)"/>
<polyline points="32.45,334.5 60.05,290.8 73.85,294.3 108.35,306.5 163.55,321.3 198.05,322.8" fill="none" stroke="#00A51E" stroke-width="1.83" stroke-dasharray="7.35 7.35" mask="url(#m3g)"/>
<polyline points="32.45,334.5 60.05,292 73.85,291 108.35,303 163.55,330 198.05,333.3" fill="none" stroke="#2F6DFF" stroke-width="1.83" stroke-dasharray="7.35 7.35" mask="url(#m3b)"/>
<circle cx="216.75" cy="334.5" r="3.25" fill="#F8766D" stroke="#F1463D" stroke-width="0.8"/>
<circle cx="244.35" cy="243.2" r="3.25" fill="#F8766D" stroke="#F1463D" stroke-width="0.8"/>
<circle cx="258.15" cy="257.7" r="3.25" fill="#F8766D" stroke="#F1463D" stroke-width="0.8"/>
<circle cx="292.65" cy="261" r="3.25" fill="#F8766D" stroke="#F1463D" stroke-width="0.8"/>
<circle cx="347.85" cy="290.1" r="3.25" fill="#F8766D" stroke="#F1463D" stroke-width="0.8"/>
<circle cx="382.35" cy="303.2" r="3.25" fill="#F8766D" stroke="#F1463D" stroke-width="0.8"/>
<polygon points="216.75,329.51 221.07,337 212.43,337" fill="#00BA38" stroke="#00A82A" stroke-width="0.8"/>
<polygon points="244.35,317.21 248.67,324.7 240.03,324.7" fill="#00BA38" stroke="#00A82A" stroke-width="0.8"/>
<polygon points="258.15,318.31 262.47,325.8 253.83,325.8" fill="#00BA38" stroke="#00A82A" stroke-width="0.8"/>
<polygon points="292.65,324.01 296.97,331.5 288.33,331.5" fill="#00BA38" stroke="#00A82A" stroke-width="0.8"/>
<polygon points="347.85,337.21 352.17,344.7 343.53,344.7" fill="#00BA38" stroke="#00A82A" stroke-width="0.8"/>
<polygon points="382.35,340.41 386.67,347.9 378.03,347.9" fill="#00BA38" stroke="#00A82A" stroke-width="0.8"/>
<rect x="213.5" y="331.25" width="6.5" height="6.5" fill="#619CFF" stroke="#4A84FF" stroke-width="0.8"/>
<rect x="241.1" y="331.15" width="6.5" height="6.5" fill="#619CFF" stroke="#4A84FF" stroke-width="0.8"/>
<rect x="254.9" y="335.85" width="6.5" height="6.5" fill="#619CFF" stroke="#4A84FF" stroke-width="0.8"/>
<rect x="289.4" y="340.05" width="6.5" height="6.5" fill="#619CFF" stroke="#4A84FF" stroke-width="0.8"/>
<rect x="344.6" y="350.55" width="6.5" height="6.5" fill="#619CFF" stroke="#4A84FF" stroke-width="0.8"/>
<rect x="379.1" y="341.45" width="6.5" height="6.5" fill="#619CFF" stroke="#4A84FF" stroke-width="0.8"/>
<line x1="244.35" y1="232.4" x2="244.35" y2="254" stroke="#F8766D" stroke-opacity="0.4" stroke-width="1.5"/>
<line x1="258.15" y1="249.8" x2="258.15" y2="265.6" stroke="#F8766D" stroke-opacity="0.4" stroke-width="1.5"/>
<line x1="292.65" y1="254.3" x2="292.65" y2="267.7" stroke="#F8766D" stroke-opacity="0.4" stroke-width="1.5"/>
<line x1="347.85" y1="283.9" x2="347.85" y2="296.3" stroke="#F8766D" stroke-opacity="0.4" stroke-width="1.5"/>
<line x1="382.35" y1="297.1" x2="382.35" y2="309.3" stroke="#F8766D" stroke-opacity="0.4" stroke-width="1.5"/>
<line x1="244.35" y1="316.2" x2="244.35" y2="328.2" stroke="#00BA38" stroke-opacity="0.4" stroke-width="1.5"/>
<line x1="258.15" y1="317.3" x2="258.15" y2="329.3" stroke="#00BA38" stroke-opacity="0.4" stroke-width="1.5"/>
<line x1="292.65" y1="323" x2="292.65" y2="335" stroke="#00BA38" stroke-opacity="0.4" stroke-width="1.5"/>
<line x1="347.85" y1="336.2" x2="347.85" y2="348.2" stroke="#00BA38" stroke-opacity="0.4" stroke-width="1.5"/>
<line x1="382.35" y1="339.4" x2="382.35" y2="351.4" stroke="#00BA38" stroke-opacity="0.4" stroke-width="1.5"/>
<line x1="244.35" y1="328.1" x2="244.35" y2="340.7" stroke="#619CFF" stroke-opacity="0.4" stroke-width="1.5"/>
<line x1="258.15" y1="332.4" x2="258.15" y2="345.8" stroke="#619CFF" stroke-opacity="0.4" stroke-width="1.5"/>
<line x1="292.65" y1="335.3" x2="292.65" y2="351.3" stroke="#619CFF" stroke-opacity="0.4" stroke-width="1.5"/>
<line x1="347.85" y1="345.8" x2="347.85" y2="361.8" stroke="#619CFF" stroke-opacity="0.4" stroke-width="1.5"/>
<line x1="382.35" y1="335.7" x2="382.35" y2="353.7" stroke="#619CFF" stroke-opacity="0.4" stroke-width="1.5"/>
<polyline points="216.75,334.5 244.35,243.2 258.15,257.7 292.65,261 347.85,290.1 382.35,303.2" fill="none" stroke="#F2392E" stroke-width="1.83" stroke-dasharray="7.35 7.35" mask="url(#m4r)"/>
<polyline points="216.75,334.5 244.35,322.2 258.15,323.3 292.65,329 347.85,342.2 382.35,345.4" fill="none" stroke="#00A51E" stroke-width="1.83" stroke-dasharray="7.35 7.35" mask="url(#m4g)"/>
<polyline points="216.75,334.5 244.35,334.4 258.15,339.1 292.65,343.3 347.85,353.8 382.35,344.7" fill="none" stroke="#2F6DFF" stroke-width="1.83" stroke-dasharray="7.35 7.35" mask="url(#m4b)"/>
<g transform="translate(255.053,390.900) rotate(0.05)"><text x="0" y="0" font-size="10.8" fill="#000" stroke="#000" stroke-width="0.15">Washout time, min</text></g>
<g transform="translate(9.7,0) rotate(-90)" fill="#000" stroke="#000" stroke-width="0.15">
<text x="-219.71" y="0" font-size="10.6">L</text>
<text x="-213.8" y="0" font-size="10.6">o</text>
<text x="-207.53" y="0" font-size="10.6">g</text>
<text x="-201.26" y="0.35" font-size="11.6">(</text>
<text x="-197.04" y="0" font-size="10.6">A</text>
<text x="-189.99" y="2.6" font-size="7.6">t</text>
<text x="-186.55" y="0.9" font-size="12.6" fill-opacity="0.55" stroke-opacity="0">/</text>
<text x="-182.64" y="0" font-size="10.6">A</text>
<text x="-175.41" y="2.6" font-size="7.6">0</text>
<text x="-170.61" y="0.35" font-size="11.6">)</text>
</g>
<g transform="translate(246.572,409.600) rotate(0.05)"><text x="0" y="0" font-size="10.5" fill="#000" stroke="#000" stroke-width="0.15">Group</text></g>
<circle cx="286.7" cy="406" r="3.4" fill="#F8766D" stroke="#F1463D" stroke-width="0.8"/>
<path transform="translate(296.84,409.2) scale(0.00860,-0.00860)" d="M372,0 L284,0 L284,560 C263,540 235,519 200,499 C165,478 134,463 106,452 L106,537 C155,560 198,588 235,621 C272,654 298,686 313,716 L372,716 Z" fill="#000"/>
<polygon points="312.25,400.43 316.86,408.41 307.64,408.41" fill="#00BA38" stroke="#00A82A" stroke-width="0.8"/>
<g transform="translate(322.567,409.200) rotate(0.05)"><text x="0" y="0" font-size="8.6" fill="#000" stroke="#000" stroke-width="0.2">2</text></g>
<rect x="334.45" y="402.45" width="6.7" height="6.7" fill="#619CFF" stroke="#4A84FF" stroke-width="0.8"/>
<g transform="translate(347.872,409.200) rotate(0.05)"><text x="0" y="0" font-size="8.6" fill="#000" stroke="#000" stroke-width="0.2">3</text></g>
</svg></body></html>
